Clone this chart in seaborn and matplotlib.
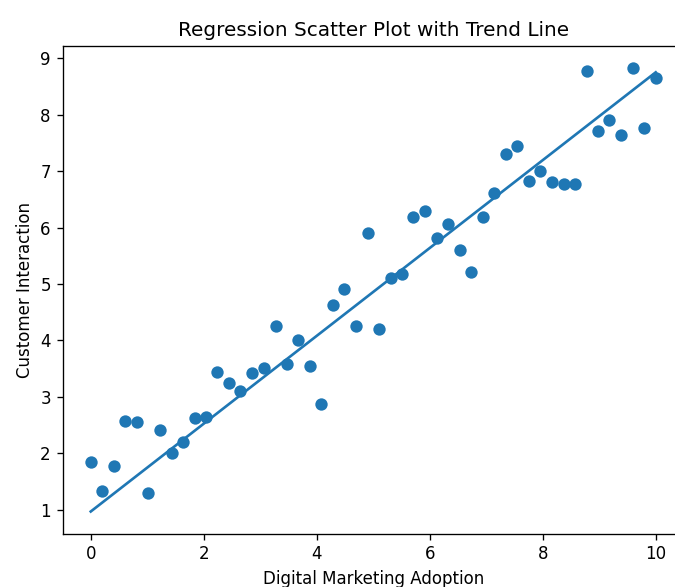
import numpy as np
import pandas as pd
import matplotlib
matplotlib.use('Agg')
import matplotlib.pyplot as plt
import seaborn as sns

# vrijednosti ocitane sa slike
adoption = [0.00, 0.20, 0.41, 0.61, 0.82, 1.02, 1.22, 1.43, 1.63, 1.84,
            2.04, 2.24, 2.45, 2.65, 2.86, 3.06, 3.27, 3.47, 3.67, 3.88,
            4.08, 4.29, 4.49, 4.69, 4.90, 5.10, 5.31, 5.51, 5.71, 5.92,
            6.12, 6.33, 6.53, 6.73, 6.94, 7.14, 7.35, 7.55, 7.76, 7.96,
            8.16, 8.37, 8.57, 8.78, 8.98, 9.18, 9.39, 9.59, 9.80, 10.00]
interaction = [1.84, 1.33, 1.77, 2.57, 2.55, 1.29, 2.41, 2.01, 2.20, 2.62,
               2.64, 3.44, 3.25, 3.11, 3.42, 3.52, 4.26, 3.58, 4.00, 3.55,
               2.87, 4.63, 4.91, 4.26, 5.91, 4.21, 5.11, 5.17, 6.19, 6.30,
               5.81, 6.07, 5.61, 5.21, 6.19, 6.61, 7.31, 7.44, 6.82, 7.00,
               6.80, 6.78, 6.78, 8.78, 7.71, 7.90, 7.64, 8.83, 7.77, 8.65]

# trend linija ocitana sa slike (krajnje tocke)
trend_x = [0.0, 10.0]
trend_y = [0.97, 8.75]

df = pd.DataFrame({'adoption': adoption, 'interaction': interaction})
trend = pd.DataFrame({'adoption': trend_x, 'interaction': trend_y})

fig = plt.figure(figsize=(675 / 120, 587 / 120), dpi=120)
ax = fig.add_axes([0.0926, 0.0908, 0.9207, 0.8315])
sns.scatterplot(x='adoption', y='interaction', data=df, ax=ax,
                color='#1f77b4', s=55, linewidth=0)
sns.lineplot(x='adoption', y='interaction', data=trend, ax=ax,
             color='#1f77b4', lw=1.6)
ax.set_xlim(-0.5, 10.5)
ax.set_title('Regression Scatter Plot with Trend Line')
ax.set_xlabel('Digital Marketing Adoption')
ax.set_ylabel('Customer Interaction')
fig.savefig('out.png', dpi=120)
